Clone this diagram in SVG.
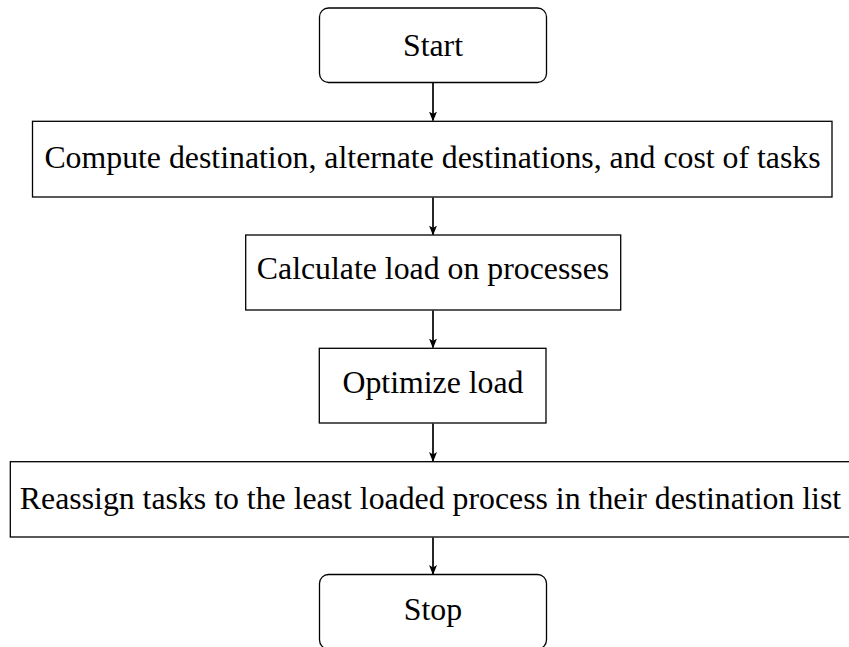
<svg xmlns="http://www.w3.org/2000/svg" width="849" height="647" viewBox="0 0 849 647">
  <style>
    .box { fill: #ffffff; stroke: #000000; stroke-width: 1.3; }
    .lbl { font-family: "Liberation Serif", "Times New Roman", serif; font-size: 31.8px; fill: #000000; text-anchor: middle; }
    .edge { stroke: #000000; stroke-width: 1.7; fill: none; marker-end: url(#arrow); }
  </style>
  <defs>
    <marker id="arrow" viewBox="0 0 10 10" refX="9" refY="5" markerWidth="10" markerHeight="10" markerUnits="userSpaceOnUse" orient="auto">
      <path d="M0,1 L10,5 L0,9 L2.5,5 Z" fill="#000000"/>
    </marker>
  </defs>
  <rect width="849" height="647" fill="#ffffff"/>

  <g id="connectors">
    <line class="edge" x1="433" y1="83" x2="433" y2="120.5"/>
    <line class="edge" x1="433" y1="197.5" x2="433" y2="234.5"/>
    <line class="edge" x1="433" y1="310.5" x2="433" y2="347.5"/>
    <line class="edge" x1="433" y1="423.5" x2="433" y2="461"/>
    <line class="edge" x1="433" y1="537.5" x2="433" y2="574"/>
  </g>

  <g id="start">
    <rect class="box" x="319.5" y="8" width="227" height="74.5" rx="9"/>
    <text class="lbl" x="433" y="56">Start</text>
  </g>
  <g id="compute">
    <rect class="box" x="32.5" y="121.3" width="799.5" height="75.7"/>
    <text class="lbl" x="432.5" y="167.5">Compute destination, alternate destinations, and cost of tasks</text>
  </g>
  <g id="calculate">
    <rect class="box" x="245.7" y="235" width="375" height="75"/>
    <text class="lbl" x="433" y="278.5">Calculate load on processes</text>
  </g>
  <g id="optimize">
    <rect class="box" x="319.3" y="348.3" width="226.7" height="74.7"/>
    <text class="lbl" x="433" y="393">Optimize load</text>
  </g>
  <g id="reassign">
    <rect class="box" x="10.3" y="461.7" width="845.4" height="75.3"/>
    <text class="lbl" x="430.5" y="508.5">Reassign tasks to the least loaded process in their destination list</text>
  </g>
  <g id="stop">
    <rect class="box" x="319.5" y="574.5" width="227" height="74.5" rx="9"/>
    <text class="lbl" x="433" y="620">Stop</text>
  </g>
</svg>
